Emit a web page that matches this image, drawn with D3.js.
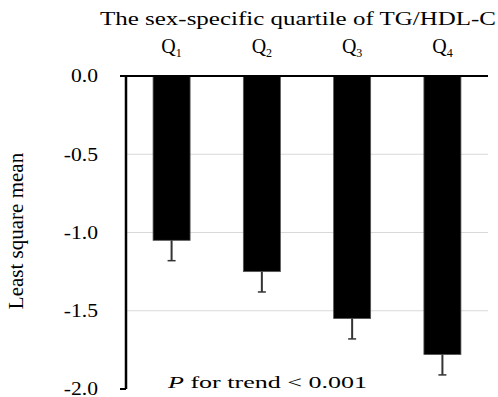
<!DOCTYPE html>
<html>
<head>
<meta charset="utf-8">
<script src="https://cdn.jsdelivr.net/npm/d3@7"></script>
<style>
  body { margin: 0; background: #fff; }
  text { font-family: "Liberation Serif", "Times New Roman", serif; fill: #000; }
</style>
</head>
<body>
<div class="chart"></div>
<script>
// quartile groups and least square means
var quartiles = ["1", "2", "3", "4"];
var means = [-1.05, -1.25, -1.55, -1.78];
var errors = [0.13, 0.13, 0.13, 0.13];
var yTicks = [0, -0.5, -1.0, -1.5, -2.0];

var margin = {top: 76, right: 10, bottom: 8, left: 126},
    width = 498 - margin.left - margin.right,
    height = 397 - margin.top - margin.bottom;

var svg = d3.select(".chart").append("svg")
    .attr("width", 498)
    .attr("height", 397);

var g = svg.append("g")
    .attr("transform", "translate(" + margin.left + "," + margin.top + ")");

var x = d3.scaleBand()
    .domain(quartiles)
    .range([0, 362])
    .paddingInner(0.59)
    .paddingOuter(0.3);

var y = d3.scaleLinear()
    .domain([0, -2])
    .range([0, 313]);

// light grid lines
g.selectAll(".grid")
    .data(yTicks.filter(function(d){ return d < 0 && d > -2; }))
  .enter().append("line")
    .attr("class", "grid")
    .attr("x1", 0)
    .attr("x2", 362)
    .attr("y1", function(d){ return y(d); })
    .attr("y2", function(d){ return y(d); })
    .style("stroke", "#d9d9d9")
    .style("stroke-width", 1);

// bars hang down from zero
g.selectAll(".bar")
    .data(means)
  .enter().append("rect")
    .attr("class", "bar")
    .attr("x", function(d, i){ return x(quartiles[i]); })
    .attr("y", y(0))
    .attr("width", x.bandwidth())
    .attr("height", function(d){ return y(d) - y(0); })
    .style("fill", "#000")
    .style("stroke", "#555")
    .style("stroke-width", 0.8);

// error bars
var eb = g.selectAll(".err")
    .data(means)
  .enter().append("g")
    .attr("class", "err")
    .attr("transform", function(d, i){ return "translate(" + (x(quartiles[i]) + x.bandwidth() / 2) + ",0)"; });

eb.append("line")
    .attr("y1", function(d){ return y(d); })
    .attr("y2", function(d, i){ return y(d - errors[i]); })
    .style("stroke", "#333")
    .style("stroke-width", 2);

eb.append("line")
    .attr("x1", -4)
    .attr("x2", 4)
    .attr("y1", function(d, i){ return y(d - errors[i]); })
    .attr("y2", function(d, i){ return y(d - errors[i]); })
    .style("stroke", "#333")
    .style("stroke-width", 1.5);

// zero line across the top
g.append("line")
    .attr("x1", -6)
    .attr("x2", 362)
    .attr("y1", y(0))
    .attr("y2", y(0))
    .style("stroke", "#000")
    .style("stroke-width", 2);

// y axis
var yAxis = d3.axisLeft(y)
    .tickValues(yTicks)
    .tickSize(0)
    .tickPadding(0)
    .tickFormat(d3.format(".1f"));

var ya = g.append("g")
    .attr("class", "y axis")
    .call(yAxis);
ya.select(".domain").remove();
ya.selectAll("text")
    .attr("x", 0)
    .attr("transform", "translate(-28,0) scale(1.2,1)")
    .style("font-size", "18px")
    .text(function(d){ return d3.format(".1f")(d).replace("−", "-"); });

g.append("line")
    .attr("x1", 0).attr("x2", 0)
    .attr("y1", y(0) - 1).attr("y2", y(-2))
    .style("stroke", "#000")
    .style("stroke-width", 2.5);
g.append("line")
    .attr("x1", -6).attr("x2", 0)
    .attr("y1", y(-2)).attr("y2", y(-2))
    .style("stroke", "#000")
    .style("stroke-width", 2);

// quartile labels above bars
var ql = g.selectAll(".qlab")
    .data(quartiles)
  .enter().append("text")
    .attr("class", "qlab")
    .attr("x", function(d){ return x(d) + x.bandwidth() / 2; })
    .attr("y", -23)
    .attr("text-anchor", "middle")
    .style("font-size", "20px");
ql.append("tspan").text("Q");
ql.append("tspan")
    .attr("dy", 4)
    .style("font-size", "12px")
    .text(function(d){ return d; });

// title
svg.append("text")
    .attr("x", 100)
    .attr("y", 25)
    .attr("textLength", 396)
    .attr("lengthAdjust", "spacingAndGlyphs")
    .style("font-size", "19px")
    .text("The sex-specific quartile of TG/HDL-C");

// y axis label
svg.append("text")
    .attr("transform", "translate(23,231) rotate(-90)")
    .attr("text-anchor", "middle")
    .style("font-size", "21px")
    .text("Least square mean");

// p for trend
var pt = svg.append("text")
    .attr("x", 168)
    .attr("y", 388)
    .attr("textLength", 199)
    .attr("lengthAdjust", "spacingAndGlyphs")
    .style("font-size", "17.5px");
pt.append("tspan").style("font-style", "italic").text("P");
pt.append("tspan").text(" for trend < 0.001");
</script>
</body>
</html>
